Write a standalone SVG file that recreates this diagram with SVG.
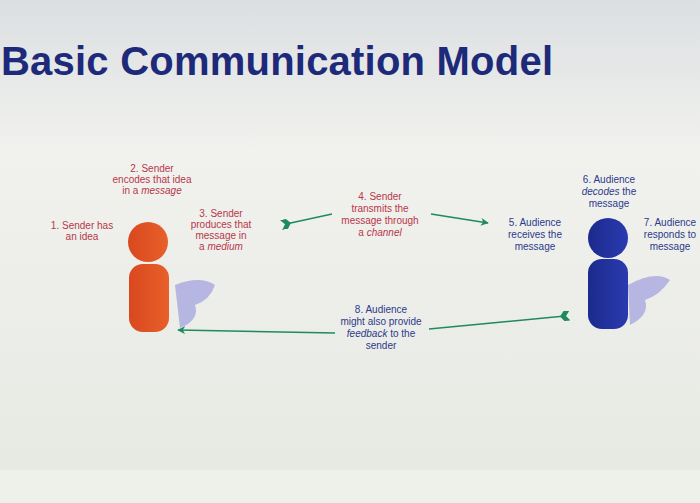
<svg xmlns="http://www.w3.org/2000/svg" width="700" height="503" viewBox="0 0 700 503">
<defs>
<linearGradient id="bg" x1="0" y1="0" x2="0" y2="1"><stop offset="0" stop-color="#dcdfe2"/><stop offset="0.3" stop-color="#f1f2ee"/><stop offset="1" stop-color="#e6e8e2"/></linearGradient>
<linearGradient id="red" x1="0" x2="1"><stop offset="0" stop-color="#d9481f"/><stop offset="1" stop-color="#e8602a"/></linearGradient>
<linearGradient id="blue" x1="0" x2="1"><stop offset="0" stop-color="#1c2a8c"/><stop offset="1" stop-color="#2a3bb0"/></linearGradient>
<marker id="head" viewBox="0 0 10 10" refX="9" refY="5" markerWidth="8" markerHeight="8" markerUnits="userSpaceOnUse" orient="auto"><path d="M0,0 L10,5 L0,10 L3,5 Z" fill="#1f8a5e"/></marker>
<marker id="tail" viewBox="0 0 10 10" refX="5" refY="5" markerWidth="10" markerHeight="10" markerUnits="userSpaceOnUse" orient="auto"><path d="M10,0 L4,0 L0,5 L4,10 L10,10 L6,5 Z" fill="#1f8a5e"/></marker>
</defs>
<style>
.t{font-family:"Liberation Sans",Arial,sans-serif;font-size:10px;text-anchor:middle}
.r{fill:#b8374a}.b{fill:#2c3a8c}
.c{stroke:#1f8a5e;stroke-width:1.6;fill:none}
</style>
<rect width="700" height="503" fill="url(#bg)"/>
<rect x="0" y="470" width="700" height="33" fill="#eef0ea"/>
<text x="1" y="75" textLength="552" font-family="Liberation Sans,Arial,sans-serif" font-weight="bold" font-size="40" fill="#1d2a7a">Basic Communication Model</text>
<g id="sender">
<path d="M175,285 Q200,275 215,285 Q210,300 195,305 Q200,320 180,328 Z" fill="#a9a8e0" opacity="0.8"/>
<circle cx="148" cy="242" r="20" fill="url(#red)"/>
<rect x="129" y="264" width="40" height="68" rx="14" fill="url(#red)"/>
</g>
<g id="audience">
<path d="M628,285 Q655,270 670,280 Q660,295 645,300 Q650,315 630,325 Z" fill="#a9a8e0" opacity="0.8"/>
<circle cx="608" cy="238" r="20" fill="url(#blue)"/>
<rect x="588" y="259" width="40" height="70" rx="14" fill="url(#blue)"/>
</g>
<g id="connectors">
<line class="c" x1="332" y1="214" x2="286" y2="224" marker-end="url(#tail)"/>
<line class="c" x1="431" y1="214" x2="488" y2="223" marker-end="url(#head)"/>
<line class="c" x1="429" y1="329" x2="565" y2="316" marker-end="url(#tail)"/>
<line class="c" x1="335" y1="333" x2="178" y2="330" marker-end="url(#head)"/>
</g>
<g id="labels">
<text class="t r" x="82" y="229">1. Sender has<tspan x="82" dy="11">an idea</tspan></text>
<text class="t r" x="152" y="172">2. Sender<tspan x="152" dy="11">encodes that idea</tspan><tspan x="152" dy="11">in a </tspan><tspan font-style="italic">message</tspan></text>
<text class="t r" x="221" y="217">3. Sender<tspan x="221" dy="11">produces that</tspan><tspan x="221" dy="11">message in</tspan><tspan x="221" dy="11">a </tspan><tspan font-style="italic">medium</tspan></text>
<text class="t r" x="380" y="200">4. Sender<tspan x="380" dy="12">transmits the</tspan><tspan x="380" dy="12">message through</tspan><tspan x="380" dy="12">a </tspan><tspan font-style="italic">channel</tspan></text>
<text class="t b" x="535" y="226">5. Audience<tspan x="535" dy="12">receives the</tspan><tspan x="535" dy="12">message</tspan></text>
<text class="t b" x="609" y="183">6. Audience<tspan x="609" dy="12" font-style="italic">decodes</tspan><tspan> the</tspan><tspan x="609" dy="12">message</tspan></text>
<text class="t b" x="670" y="226">7. Audience<tspan x="670" dy="12">responds to</tspan><tspan x="670" dy="12">message</tspan></text>
<text class="t b" x="381" y="313">8. Audience<tspan x="381" dy="12">might also provide</tspan><tspan x="381" dy="12" font-style="italic">feedback</tspan><tspan> to the</tspan><tspan x="381" dy="12">sender</tspan></text>
</g>
</svg>
